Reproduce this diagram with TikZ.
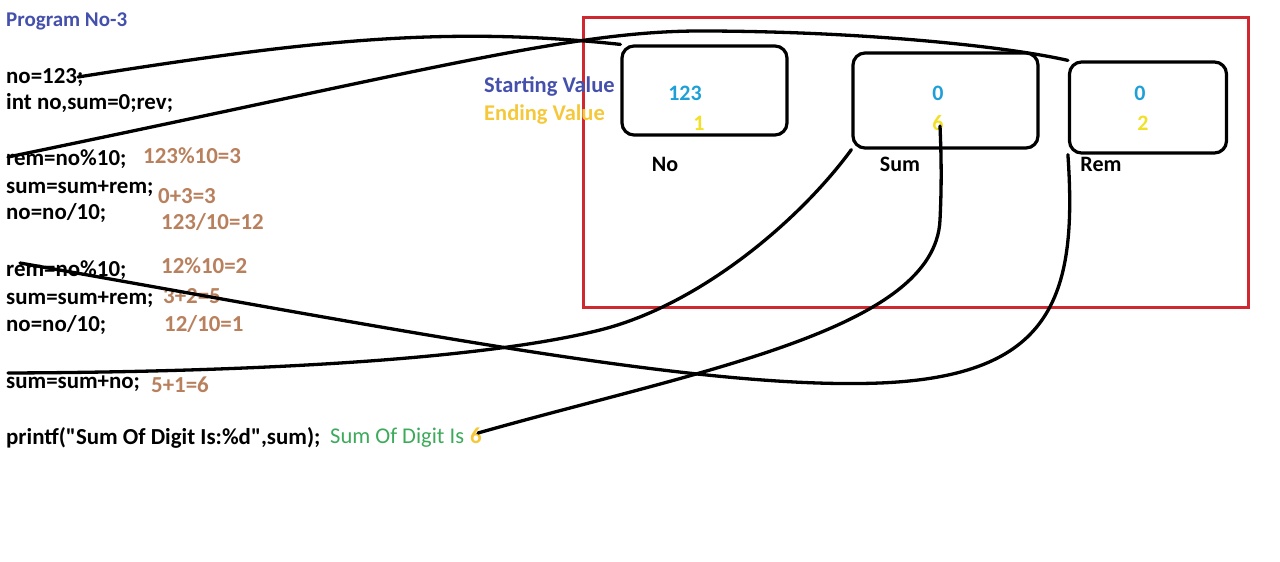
\documentclass[tikz,border=0pt]{standalone}
\usepackage{fontspec}
\setmainfont{Carlito}
\definecolor{progblue}{RGB}{68,80,172}
\definecolor{calcbrown}{RGB}{184,128,92}
\definecolor{startcyan}{RGB}{30,160,215}
\definecolor{endyellow}{RGB}{240,225,40}
\definecolor{goldtext}{RGB}{245,200,60}
\definecolor{outgreen}{RGB}{60,170,90}
\definecolor{framered}{RGB}{208,40,48}
\tikzset{
  code/.style={anchor=base west, inner sep=0pt, font=\fontsize{22.9}{27}\selectfont\bfseries, text=black},
  calc/.style={code, text=calcbrown},
  varbox/.style={draw=black, line width=3.2pt, rounded corners=12pt, inner sep=0pt},
  startval/.style={inner sep=0pt, font=\fontsize{22}{26}\selectfont\bfseries, text=startcyan},
  endval/.style={inner sep=0pt, font=\fontsize{22}{26}\selectfont\bfseries, text=endyellow},
  varlabel/.style={inner sep=0pt, font=\fontsize{22}{26}\selectfont\bfseries, text=black},
  link/.style={draw=black, line width=3.3pt, line cap=round},
}
\begin{document}
\begin{tikzpicture}[x=1pt,y=-1pt]
\useasboundingbox (0,0) rectangle (1280,562);
% frame
\draw[draw=framered, line width=3pt] (583,17) rectangle (1248,307);
% title and code
\node[code, text=progblue, font=\fontsize{21}{25}\selectfont\bfseries] (title) at (6,26) {Program No-3};
\node[code] (c1) at (6,83) {no=123;};
\node[code] (c2) at (6,109) {int no,sum=0;rev;};
\node[code] (c3) at (6,165) {rem=no\%10;};
\node[code] (c4) at (6,193) {sum=sum+rem;};
\node[code] (c5) at (6,219) {no=no/10;};
\node[code] (c6) at (6,276) {rem=no\%10;};
\node[code] (c7) at (6,304) {sum=sum+rem;};
\node[code] (c8) at (6,331) {no=no/10;};
\node[code] (c9) at (6,388) {sum=sum+no;};
\node[code] (c10) at (6,444) {printf(\textquotedbl Sum Of Digit Is:\%d\textquotedbl,sum);};
% calculations
\node[calc] (k1) at (143,163) {123\%10=3};
\node[calc] (k2) at (158,203) {0+3=3};
\node[calc] (k3) at (161,229) {123/10=12};
\node[calc] (k4) at (161,273) {12\%10=2};
\node[calc] (k5) at (163,303) {3+2=5};
\node[calc] (k6) at (164,331) {12/10=1};
\node[calc] (k7) at (151,392) {5+1=6};
% output
\node[code, font=\fontsize{22.5}{26}\selectfont, text=outgreen] (out) at (330,443) {Sum Of Digit Is};
\node[code, text=goldtext] (outsix) at (470,443) {6};
% legend
\node[code, font=\fontsize{22.5}{26}\selectfont\bfseries, text=progblue] (leg1) at (484,92) {Starting Value};
\node[code, font=\fontsize{22.5}{26}\selectfont\bfseries, text=goldtext] (leg2) at (484,120) {Ending Value};
% boxes
\node[varbox, minimum width=165pt, minimum height=89pt] (nobox) at (704.5,90.5) {};
\node[varbox, minimum width=185pt, minimum height=95pt] (sumbox) at (945.5,100.5) {};
\node[varbox, minimum width=157pt, minimum height=91pt] (rembox) at (1148,107.5) {};
\node[startval] (nostart) at (685,93) {123};
\node[endval] (noend) at (699,123) {1};
\node[startval] (sumstart) at (938,93) {0};
\node[endval] (sumend) at (938,123) {6};
\node[startval] (remstart) at (1140,93) {0};
\node[endval] (remend) at (1143,123) {2};
\node[varlabel] (nolab) at (665,164) {No};
\node[varlabel] (sumlab) at (900,164) {Sum};
\node[varlabel] (remlab) at (1101,164) {Rem};
% connector start points
\coordinate (s1) at (78,77);
\coordinate (s2) at (8,157);
\coordinate (s3) at (20,263);
\coordinate (s4) at (8,373);
\coordinate (s5) at (478,433);
\coordinate (e5) at (940,126);
% connectors
\path[link] (s1) .. controls (300,42) and (440,25) .. (nobox.north west);
\path[link] (s2) .. controls (420,72) and (570,31) .. (700,31) .. controls (850,31) and (1000,45) .. (rembox.north west);
\path[link] (s3) .. controls (400,330) and (700,390) .. (880,383) .. controls (1050,376) and (1078,300) .. (rembox.south west);
\path[link] (s4) .. controls (250,372) and (480,360) .. (600,330) .. controls (700,305) and (800,220) .. (sumbox.south west);
\path[link] (s5) .. controls (700,370) and (935,330) .. (940,220) .. controls (942,180) and (941,150) .. (e5);
\end{tikzpicture}
\end{document}
